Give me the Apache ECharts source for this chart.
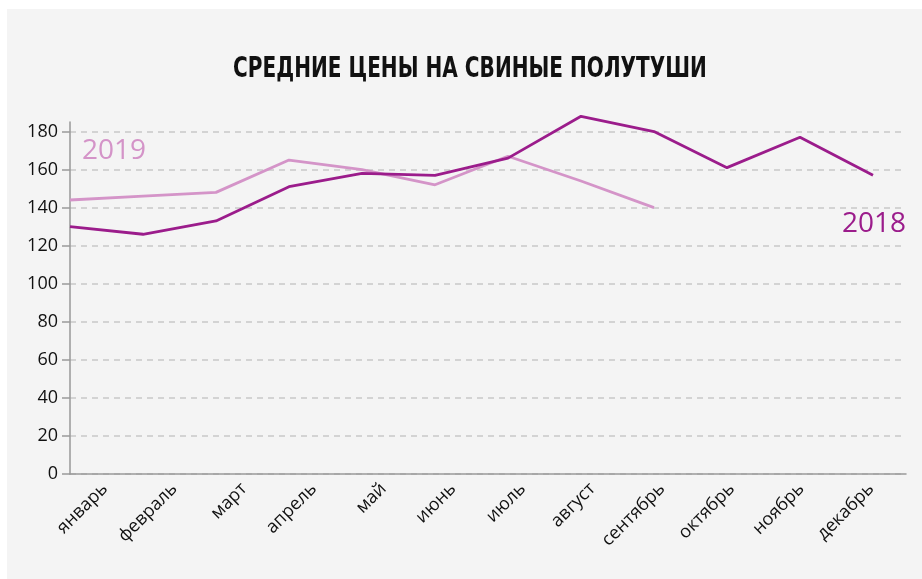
<!DOCTYPE html>
<html>
<head>
<meta charset="utf-8">
<script src="https://cdn.jsdelivr.net/npm/echarts@6/dist/echarts.min.js"></script>
<style>
  html, body { margin: 0; padding: 0; background: #fff; }
  #chart { position: absolute; left: 7px; top: 9px; width: 915px; height: 570px; background: #f4f4f4; }
</style>
</head>
<body>
<div id="chart"></div>
<script>
const months = ['январь', 'февраль', 'март', 'апрель', 'май', 'июнь',
  'июль', 'август', 'сентябрь', 'октябрь', 'ноябрь', 'декабрь']
const prices2018 = [130, 126, 133, 151, 158, 157, 166, 188, 180, 161, 177, 157]
const prices2019 = [144, 146, 148, 165, 160, 152, 167, 154, 140]
const yTicks = [0, 20, 40, 60, 80, 100, 120, 140, 160, 180]

const color2018 = '#9b1c8b'
const color2019 = '#d494c8'
const font = '"Open Sans", "Noto Sans", sans-serif'

const chart = echarts.init(document.getElementById('chart'))

chart.setOption({
  animation: false,
  // visible axes live in grid 0, lines in grid 1 (narrower, as in the original)
  grid: [
    { left: 63, right: 16, top: 113, bottom: 105 },
    { left: 63, right: 49, top: 113, bottom: 105 },
  ],
  xAxis: [{
    type: 'category',
    gridIndex: 0,
    data: months,
    boundaryGap: true,
    axisLine: { lineStyle: { color: '#999', width: 1.5 } },
    axisTick: { length: 6, lineStyle: { color: '#999', width: 1.5 } },
    axisLabel: {
      rotate: 45,
      interval: 0,
      margin: 12,
      fontFamily: font,
      fontSize: 18,
      color: '#111',
    },
  }, {
    type: 'category',
    gridIndex: 1,
    data: months,
    boundaryGap: false,
    show: false,
  }],
  yAxis: [{
    type: 'value',
    gridIndex: 0,
    min: 0,
    max: 185,
    interval: 20,
    axisLine: { show: true, lineStyle: { color: '#999', width: 1.5 } },
    axisTick: { show: true, length: 8, lineStyle: { color: '#999', width: 1.5 } },
    axisLabel: {
      showMaxLabel: false,
      margin: 12,
      fontFamily: font,
      fontSize: 18,
      color: '#111',
      formatter: v => yTicks.indexOf(v) >= 0 ? String(v) : '',
    },
    splitLine: {
      showMaxLine: false,
      lineStyle: { color: '#c8c8c8', type: [6, 5], width: 1.5 },
    },
  }, {
    type: 'value',
    gridIndex: 1,
    min: 0,
    max: 185,
    show: false,
    splitLine: { show: false },
  }],
  graphic: [
    {
      // condensed title: no narrow font installed, so squeeze horizontally
      type: 'text', x: 463, y: 46, scaleX: 0.77,
      style: {
        text: 'СРЕДНИЕ ЦЕНЫ НА СВИНЫЕ ПОЛУТУШИ',
        fill: '#111',
        align: 'center',
        font: 'bold 29px "DejaVu Sans Condensed", "DejaVu Sans", sans-serif',
      },
    },
    {
      type: 'text', left: 75, top: 128,
      style: { text: '2019', fill: color2019, font: '28px ' + font },
    },
    {
      type: 'text', right: 16, top: 201,
      style: { text: '2018', fill: color2018, font: '28px ' + font },
    },
  ],
  series: [{
    name: '2019',
    type: 'line',
    xAxisIndex: 1,
    yAxisIndex: 1,
    data: prices2019,
    symbol: 'none',
    clip: false,
    lineStyle: { color: color2019, width: 2.8 },
    z: 3,
  }, {
    name: '2018',
    type: 'line',
    xAxisIndex: 1,
    yAxisIndex: 1,
    data: prices2018,
    symbol: 'none',
    clip: false,
    lineStyle: { color: color2018, width: 2.8 },
    z: 4,
  }],
})
</script>
</body>
</html>
